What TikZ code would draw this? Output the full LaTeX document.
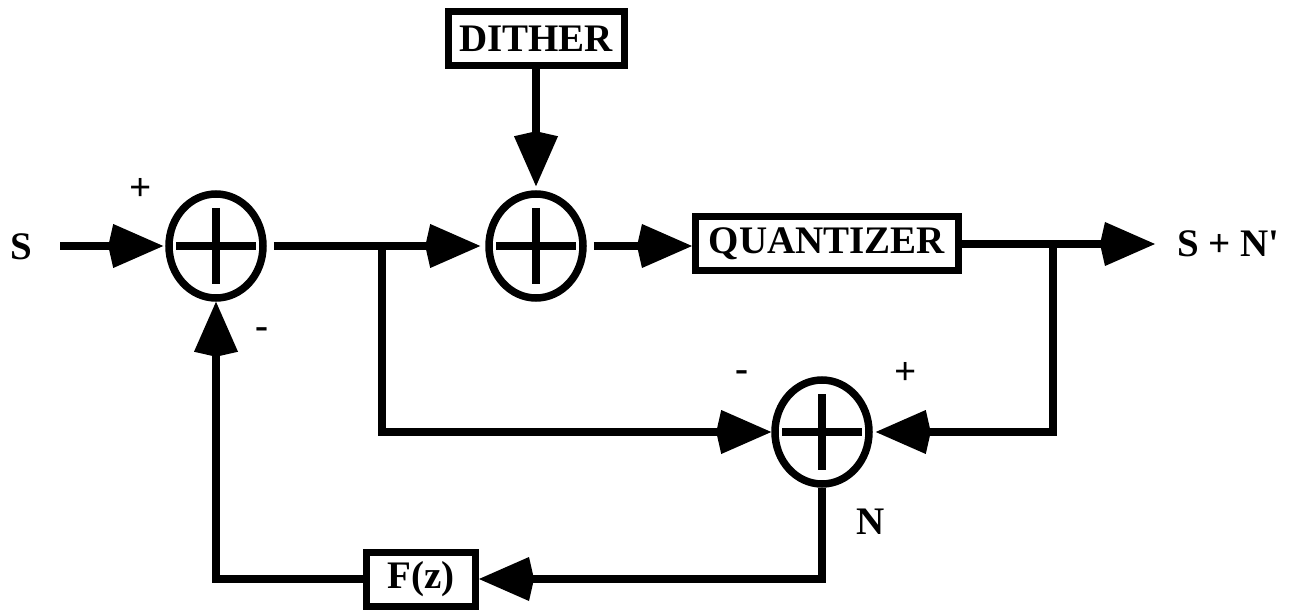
\documentclass[tikz,border=0pt]{standalone}
\usepackage{fontspec}
\setmainfont{Liberation Serif}[BoldFont={Liberation Serif Bold}]
\usetikzlibrary{shapes.geometric,arrows.meta}

\begin{document}
\begin{tikzpicture}[x=1pt,y=-1pt,
  font=\fontsize{39}{46}\selectfont\bfseries,
  wire/.style={line width=7.5pt},
  sig/.style={wire,-{Kite[length=55pt,width=44pt,inset=5pt]}},
  summer/.style={ellipse,draw,line width=7.5pt,minimum width=94pt,minimum height=104pt,inner sep=0pt},
  blk/.style={draw,line width=7pt,inner sep=0pt,minimum height=54pt}]
  \useasboundingbox (0,0) rectangle (1290,612);

  % summing junctions
  \node[summer] (sum1) at (216,246) {};
  \node[summer] (sum2) at (536,246) {};
  \node[summer] (sum3) at (822,432) {};
  \foreach \s in {sum1,sum2,sum3} {
    \draw[wire] (\s.center) ++(-40,0) -- ++(80,0);
    \draw[wire] (\s.center) ++(0,-38) -- ++(0,76);
  }

  % blocks
  \node[blk,minimum width=176pt] (dither) at (536,39) {DITHER};
  \node[blk,minimum width=263pt] (quant) at (827,244) {QUANTIZER};
  \node[blk,minimum width=109pt] (fz) at (421,579) {F(z)};

  % texts
  \node (sig) at (21,247) {S};
  \node[anchor=west,inner sep=0pt] (out) at (1177,244) {S + N\textquotesingle};
  \node (n) at (871,522) {N};
  \node (p1) at (141,189) {+};
  \node (m1) at (262,333) {-};
  \node (m3) at (742,376) {-};
  \node (p3) at (906,373) {+};

  \coordinate (in) at (60,246);
  \coordinate (b1) at (382,246);
  \coordinate (b2) at (1053,244);

  % forward path
  \draw[sig,shorten >=2pt] (in) -- (sum1.west);
  \draw[sig,shorten <=7pt,shorten >=5pt] (sum1.east) -- (sum2.west);
  \draw[sig,shorten >=4pt] (dither.south) -- (sum2.north);
  \draw[sig,shorten <=7pt] (sum2.east) -- (sum2.east -| quant.west);
  \draw[sig,shorten >=22pt] (quant.east) -- (out.west);

  % error path
  \draw[sig] (b1) |- (sum3.west);
  \draw[sig,shorten >=3pt] (b2) |- (sum3.east);
  \draw[sig] (sum3.south) |- (fz.east);
  \draw[sig] (fz.west) -| (sum1.south);
\end{tikzpicture}
\end{document}
